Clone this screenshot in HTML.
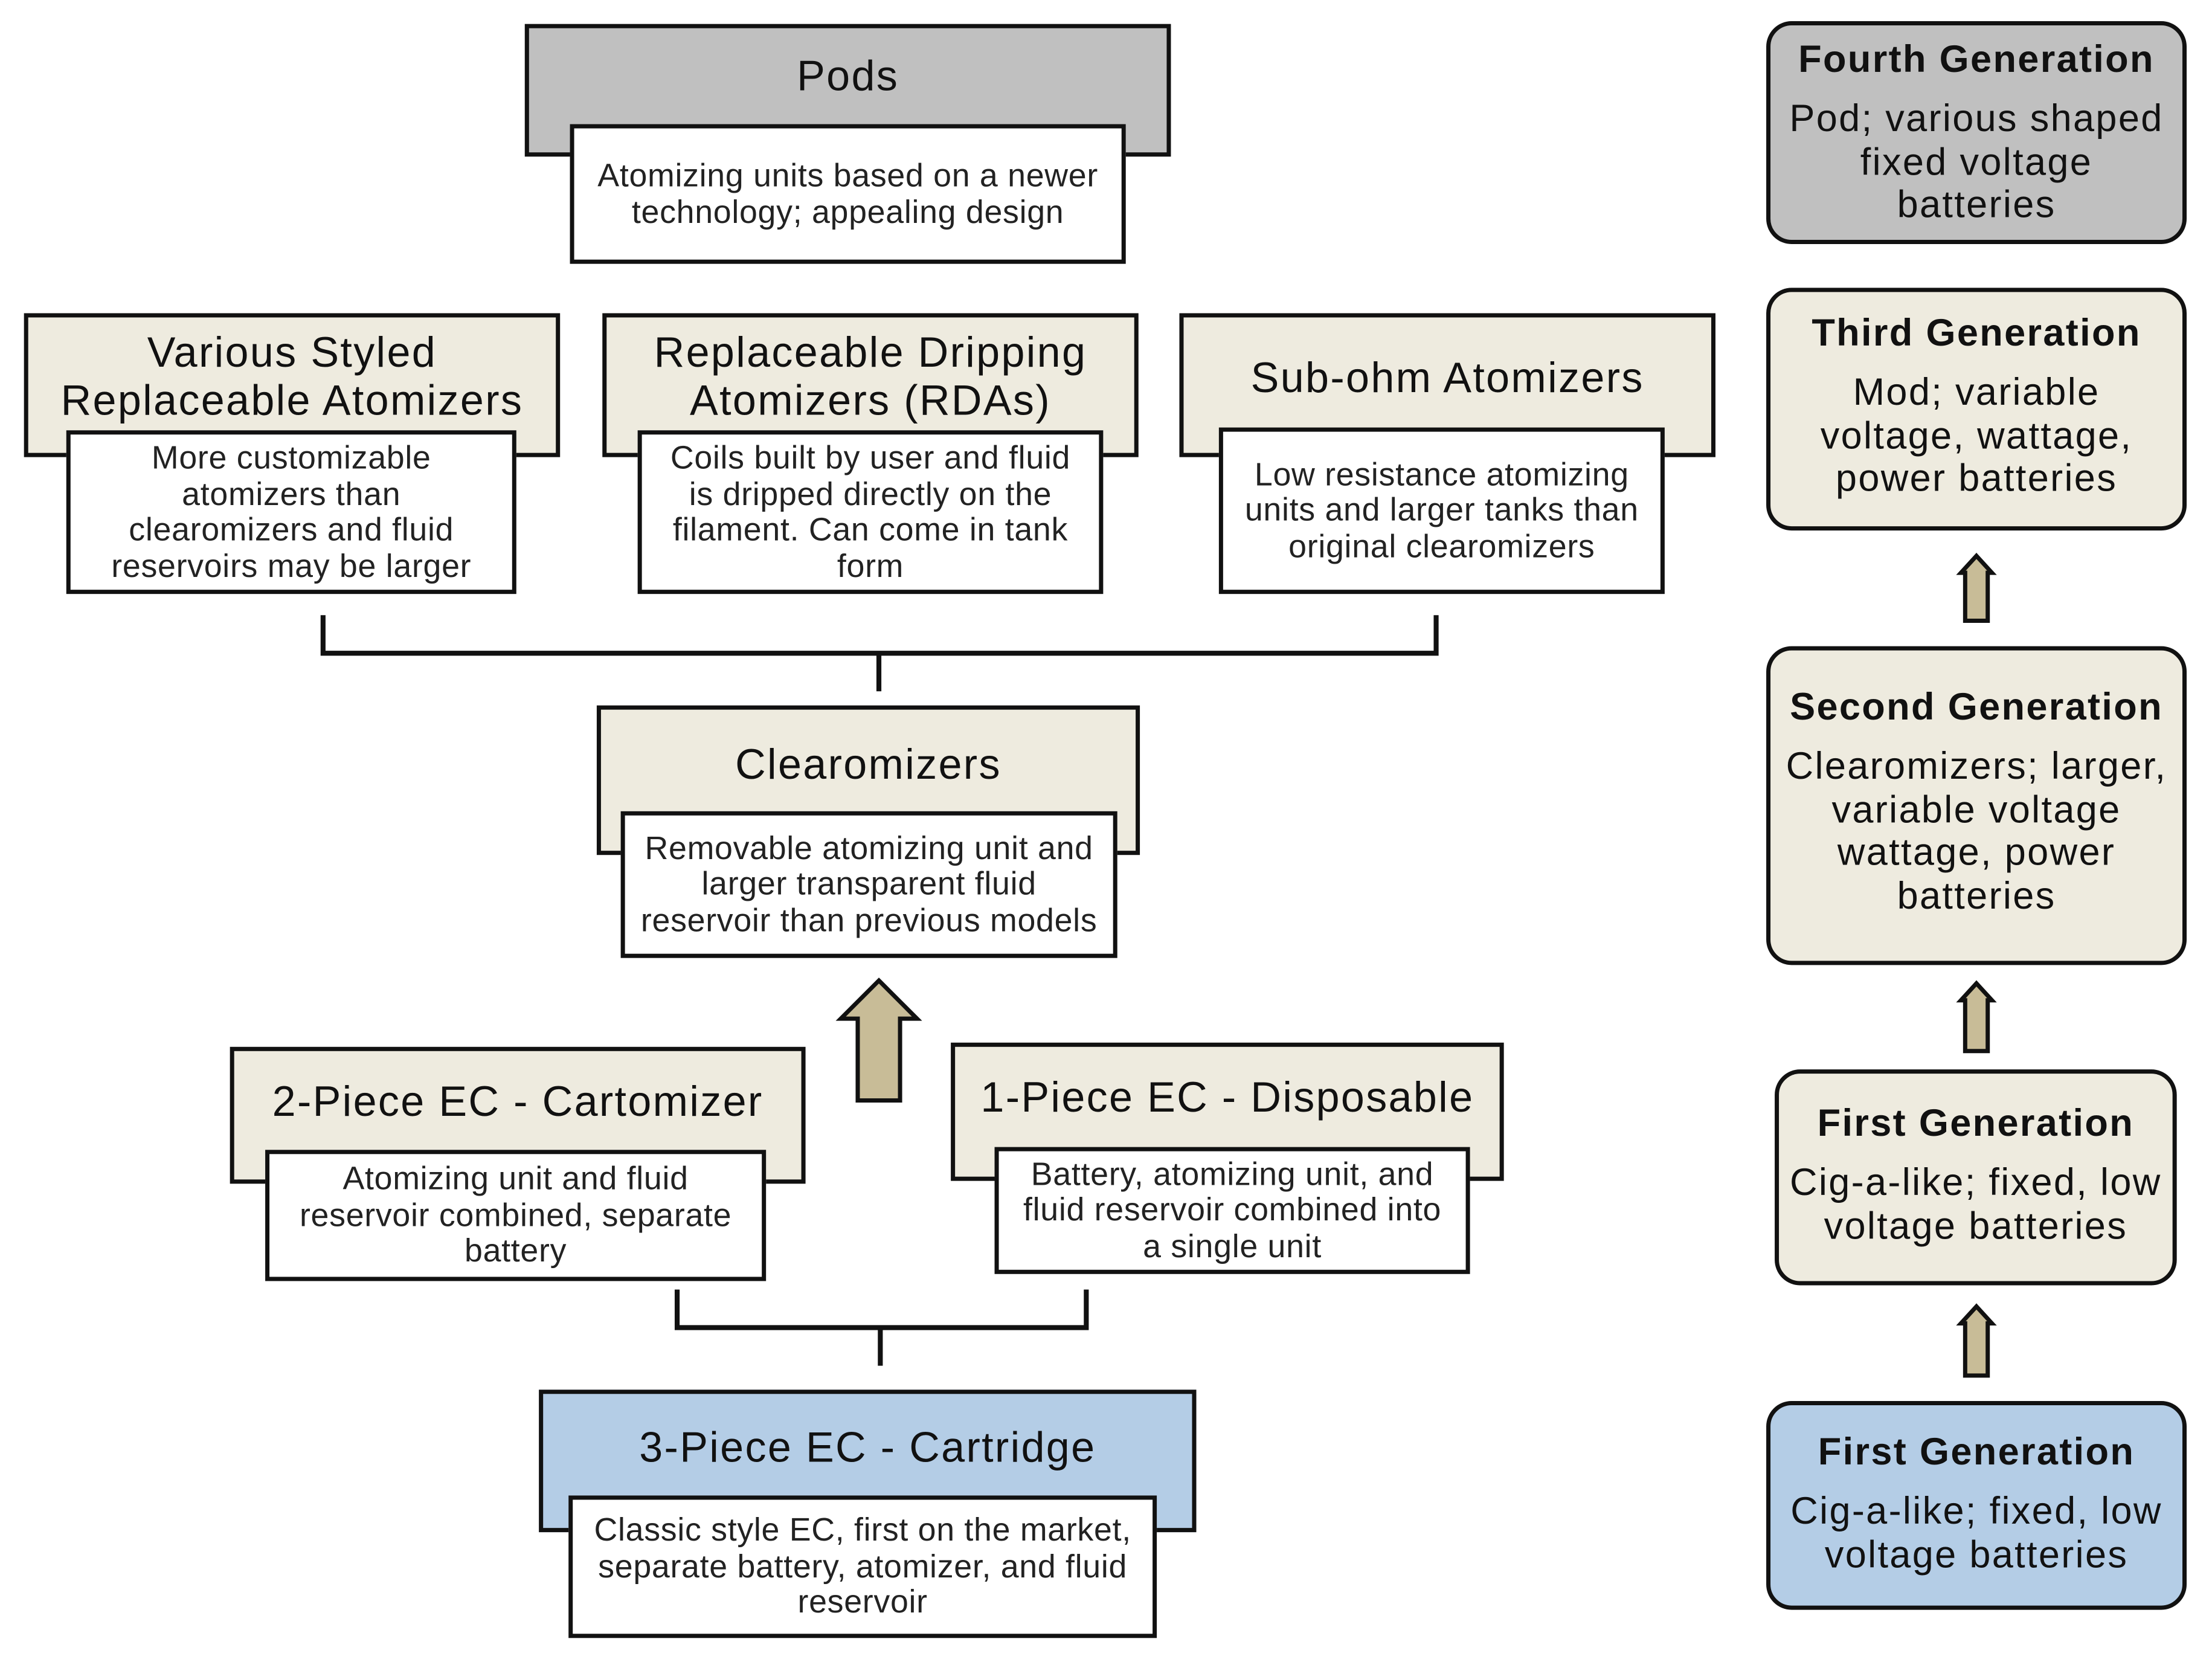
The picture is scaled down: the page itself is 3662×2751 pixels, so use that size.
<!DOCTYPE html>
<html><head><meta charset="utf-8"><style>
html,body{margin:0;padding:0;background:#fff;}
body{width:3662px;height:2751px;overflow:hidden;}
#w{position:absolute;left:0;top:0;width:1568px;height:1178px;transform:scale(2.3355,2.3353);transform-origin:0 0;font-family:"Liberation Sans",Arial,sans-serif;color:#111;}
.o{position:absolute;border:3px solid #111;box-sizing:border-box;}
.i{position:absolute;border:3px solid #111;box-sizing:border-box;background:#fff;display:flex;align-items:center;justify-content:center;text-align:center;font-size:23px;line-height:25.5px;color:#222;letter-spacing:0.3px;white-space:nowrap;}
.t{position:absolute;left:0;right:0;text-align:center;font-size:30px;line-height:34px;letter-spacing:1px;white-space:nowrap;}
.bg{background:#eeebdf;} .gr{background:#c0c0c0;} .bl{background:#b4cde6;}
.r{position:absolute;border:3px solid #111;border-radius:18px;box-sizing:border-box;text-align:center;white-space:nowrap;}
.r .h{font-weight:bold;font-size:27px;line-height:30px;letter-spacing:1px;}
.r .b{font-size:27px;line-height:30.5px;margin-top:12px;letter-spacing:1px;}
svg{position:absolute;left:0;top:0;}
</style></head><body><div id="w">
<svg width="1568" height="1178">
<g stroke="#111" stroke-width="3.5" fill="none">
<polyline points="229,436 229,463 1018,463 1018,436"/><line x1="623" y1="463" x2="623" y2="490"/>
<polyline points="480,914 480,941 770,941 770,914"/><line x1="624" y1="941" x2="624" y2="968"/>
</g>
<g fill="#c8bc97" stroke="#111" stroke-width="3">
<polygon points="623,695 650,722 638,722 638,780 608,780 608,722 596,722"/>
<polygon points="1401,394 1412,406 1409,406 1409,440 1393,440 1393,406 1390,406"/>
<polygon points="1401,697 1412,709 1409,709 1409,745 1393,745 1393,709 1390,709"/>
<polygon points="1401,926 1412,938 1409,938 1409,975 1393,975 1393,938 1390,938"/>
</g>
</svg>

<div class="o gr" style="left:372px;top:17px;width:458px;height:94px;"><div class="t" style="top:18px;">Pods</div></div>
<div class="i" style="left:404px;top:88px;width:394px;height:99px;">Atomizing units based on a newer<br>technology; appealing design</div>

<div class="o bg" style="left:17px;top:222px;width:380px;height:102px;"><div class="t" style="top:9px;">Various Styled<br>Replaceable Atomizers</div></div>
<div class="i" style="left:47px;top:305px;width:319px;height:116px;">More customizable<br>atomizers than<br>clearomizers and fluid<br>reservoirs may be larger</div>

<div class="o bg" style="left:427px;top:222px;width:380px;height:102px;"><div class="t" style="top:9px;">Replaceable Dripping<br>Atomizers (RDAs)</div></div>
<div class="i" style="left:452px;top:305px;width:330px;height:116px;">Coils built by user and fluid<br>is dripped directly on the<br>filament. Can come in tank<br>form</div>

<div class="o bg" style="left:836px;top:222px;width:380px;height:102px;"><div class="t" style="top:27px;">Sub-ohm Atomizers</div></div>
<div class="i" style="left:864px;top:303px;width:316px;height:118px;">Low resistance atomizing<br>units and larger tanks than<br>original clearomizers</div>

<div class="o bg" style="left:423px;top:500px;width:385px;height:106px;"><div class="t" style="top:23px;">Clearomizers</div></div>
<div class="i" style="left:440px;top:575px;width:352px;height:104px;">Removable atomizing unit and<br>larger transparent fluid<br>reservoir than previous models</div>

<div class="o bg" style="left:163px;top:742px;width:408px;height:97px;"><div class="t" style="top:20px;">2-Piece EC - Cartomizer</div></div>
<div class="i" style="left:188px;top:815px;width:355px;height:93px;">Atomizing unit and fluid<br>reservoir combined, separate<br>battery</div>

<div class="o bg" style="left:674px;top:739px;width:392px;height:98px;"><div class="t" style="top:20px;">1-Piece EC - Disposable</div></div>
<div class="i" style="left:705px;top:813px;width:337px;height:90px;">Battery, atomizing unit, and<br>fluid reservoir combined into<br>a single unit</div>

<div class="o bl" style="left:382px;top:985px;width:466px;height:101px;"><div class="t" style="top:22px;">3-Piece EC - Cartridge</div></div>
<div class="i" style="left:403px;top:1060px;width:417px;height:101px;">Classic style EC, first on the market,<br>separate battery, atomizer, and fluid<br>reservoir</div>

<div class="r gr" style="left:1252px;top:15px;width:298px;height:158px;padding-top:9px;"><div class="h">Fourth Generation</div><div class="b">Pod; various shaped<br>fixed voltage<br>batteries</div></div>
<div class="r bg" style="left:1252px;top:204px;width:298px;height:172px;padding-top:14px;"><div class="h">Third Generation</div><div class="b">Mod; variable<br>voltage, wattage,<br>power batteries</div></div>
<div class="r bg" style="left:1252px;top:458px;width:298px;height:226px;padding-top:25px;"><div class="h">Second Generation</div><div class="b">Clearomizers; larger,<br>variable voltage<br>wattage, power<br>batteries</div></div>
<div class="r bg" style="left:1258px;top:758px;width:285px;height:153px;padding-top:20px;"><div class="h">First Generation</div><div class="b">Cig-a-like; fixed, low<br>voltage batteries</div></div>
<div class="r bl" style="left:1252px;top:993px;width:298px;height:148px;padding-top:18px;"><div class="h">First Generation</div><div class="b">Cig-a-like; fixed, low<br>voltage batteries</div></div>
</div></body></html>
